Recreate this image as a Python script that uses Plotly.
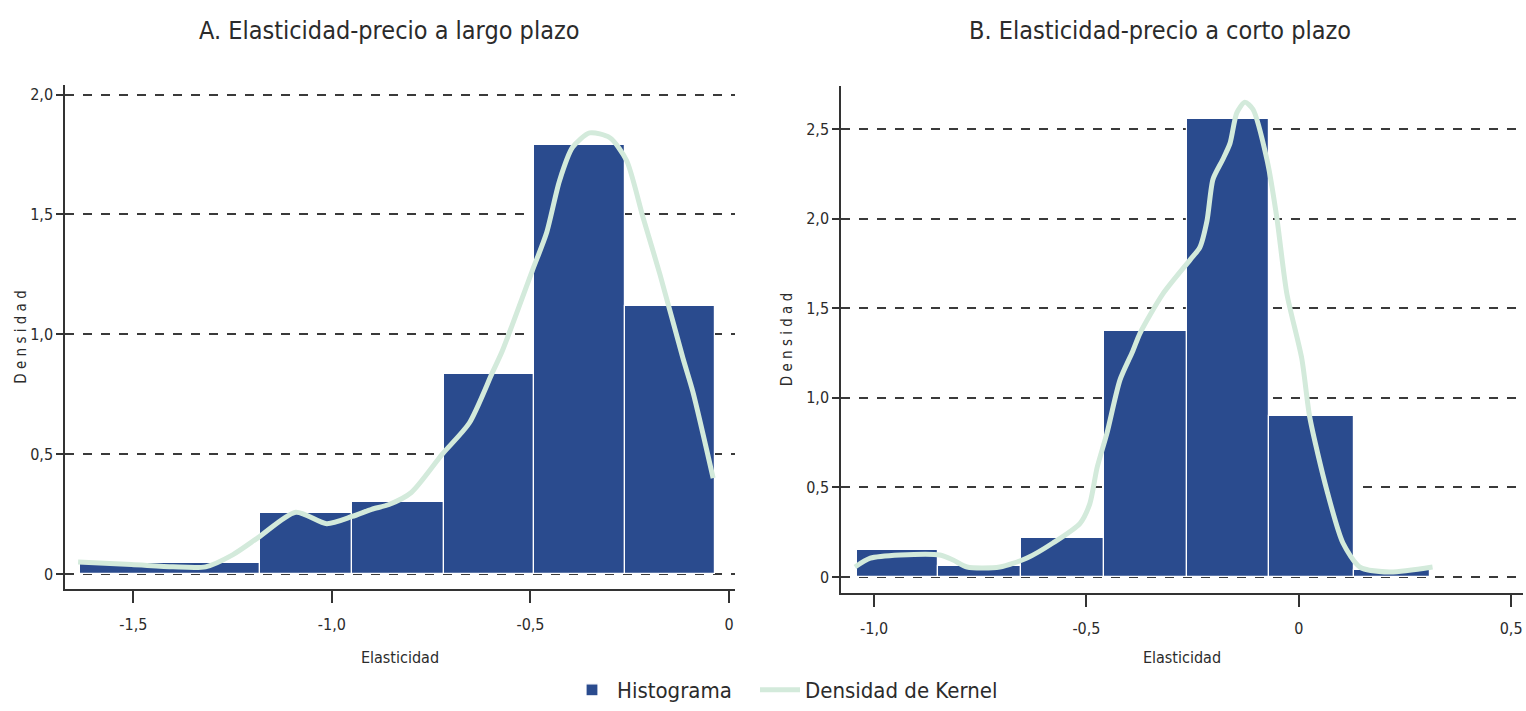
import plotly.graph_objects as go

# ---------------- data ----------------
# Panel A: long-run price elasticity
a_edges = [-1.634, -1.180, -0.950, -0.717, -0.490, -0.262, -0.035]
a_heights = [0.046, 0.254, 0.30, 0.833, 1.79, 1.117]
a_kde_x = [-1.639, -1.505, -1.40, -1.318, -1.25, -1.184, -1.091, -1.013, -0.949, -0.90, -0.856,
           -0.80, -0.722, -0.654, -0.596, -0.571, -0.495, -0.46, -0.427, -0.394, -0.351,
           -0.30, -0.258, -0.217, -0.174, -0.116, -0.091, -0.040]
a_kde_y = [0.05, 0.04, 0.03, 0.03, 0.08, 0.154, 0.258, 0.21, 0.24, 0.27, 0.29,
           0.34, 0.50, 0.63, 0.84, 0.93, 1.267, 1.42, 1.64, 1.78, 1.84,
           1.82, 1.725, 1.49, 1.25, 0.90, 0.76, 0.40]

# Panel B: short-run price elasticity
b_edges = [-1.040, -0.849, -0.654, -0.459, -0.263, -0.071, 0.131, 0.310]
b_heights = [0.15, 0.06, 0.218, 1.373, 2.556, 0.90, 0.04]
b_kde_x = [-1.045, -1.009, -0.939, -0.845, -0.814, -0.781, -0.704, -0.64, -0.579, -0.515,
           -0.492, -0.475, -0.452, -0.421, -0.391, -0.374, -0.32, -0.256, -0.233, -0.216,
           -0.202, -0.179, -0.162, -0.146, -0.127, -0.108, -0.075, -0.052, -0.028, 0.007,
           0.026, 0.066, 0.104, 0.144, 0.214, 0.315]
b_kde_y = [0.056, 0.105, 0.123, 0.123, 0.095, 0.056, 0.056, 0.106, 0.19, 0.30,
           0.41, 0.61, 0.80, 1.10, 1.26, 1.36, 1.58, 1.77, 1.84, 1.99,
           2.22, 2.33, 2.42, 2.59, 2.65, 2.61, 2.33, 2.01, 1.58, 1.22,
           0.89, 0.485, 0.19, 0.056, 0.028, 0.056]

titles = ["A. Elasticidad-precio a largo plazo", "B. Elasticidad-precio a corto plazo"]
a_xticks = [-1.5, -1.0, -0.5, 0]
a_xtext = ["-1,5", "-1,0", "-0,5", "0"]
a_yticks = [0, 0.5, 1.0, 1.5, 2.0]
a_ytext = ["0", "0,5", "1,0", "1,5", "2,0"]
b_xticks = [-1.0, -0.5, 0, 0.5]
b_xtext = ["-1,0", "-0,5", "0", "0,5"]
b_yticks = [0, 0.5, 1.0, 1.5, 2.0, 2.5]
b_ytext = ["0", "0,5", "1,0", "1,5", "2,0", "2,5"]

BAR = "#2a4b8e"
KDE = "#d3eadb"
TXT = "#2b2b2b"
FONT = "Liberation Sans Narrow, Arial Narrow, DejaVu Sans Condensed, Liberation Sans, sans-serif"


def centers(edges):
    return [(edges[i] + edges[i + 1]) / 2 for i in range(len(edges) - 1)]


def widths(edges):
    return [edges[i + 1] - edges[i] for i in range(len(edges) - 1)]


fig = go.Figure()

fig.add_trace(go.Bar(x=centers(a_edges), y=a_heights, width=widths(a_edges),
                     marker=dict(color=BAR, line=dict(color="white", width=1.2)),
                     name="Histograma", xaxis="x", yaxis="y", showlegend=True, legend="legend"))
fig.add_trace(go.Scatter(x=a_kde_x, y=a_kde_y, mode="lines",
                         line=dict(color=KDE, width=5, shape="spline", smoothing=0.7),
                         name="Densidad de Kernel", xaxis="x", yaxis="y", showlegend=True,
                         legend="legend2"))
fig.add_trace(go.Bar(x=centers(b_edges), y=b_heights, width=widths(b_edges),
                     marker=dict(color=BAR, line=dict(color="white", width=1.2)),
                     name="Histograma", xaxis="x2", yaxis="y2", showlegend=False))
fig.add_trace(go.Scatter(x=b_kde_x, y=b_kde_y, mode="lines",
                         line=dict(color=KDE, width=5, shape="spline", smoothing=0.7),
                         name="Densidad de Kernel", xaxis="x2", yaxis="y2", showlegend=False))

W, H = 1526, 711

axis_common = dict(showline=True, linecolor="#333", linewidth=1.5, ticks="outside",
                   tickcolor="#333", tickwidth=1.5, zeroline=False, automargin=False,
                   tickfont=dict(family=FONT, size=16, color=TXT))

grid = dict(showgrid=True, gridcolor="#3a3a3a", gridwidth=1.5, griddash="dash")

legend_common = dict(orientation="h", xanchor="left", y=0.0, yanchor="bottom",
                     font=dict(size=22, family=FONT, color=TXT), itemwidth=40,
                     bgcolor="rgba(0,0,0,0)")

fig.update_layout(
    width=W, height=H,
    margin=dict(l=0, r=0, t=0, b=0, autoexpand=False),
    paper_bgcolor="white", plot_bgcolor="white",
    bargap=0,
    font=dict(family=FONT, color=TXT),
    xaxis=dict(domain=[65 / W, 735 / W], range=[-1.672, 0.015], tickvals=a_xticks,
               ticktext=a_xtext, ticklen=12, ticklabelstandoff=8, anchor="y", showgrid=False,
               title=dict(text="Elasticidad", font=dict(size=16, family=FONT, color=TXT), standoff=19),
               **axis_common),
    yaxis=dict(domain=[1 - 589 / H, 1 - 85 / H], range=[-0.0625, 2.04], tickvals=a_yticks,
               ticktext=a_ytext, ticklen=7, anchor="x",
               title=dict(text="D e n s i d a d", font=dict(size=15, family=FONT, color=TXT), standoff=0),
               **grid, **axis_common),
    xaxis2=dict(domain=[841 / W, 1523 / W], range=[-1.078, 0.528], tickvals=b_xticks,
                ticktext=b_xtext, ticklen=12, ticklabelstandoff=8, anchor="y2", showgrid=False,
                title=dict(text="Elasticidad", font=dict(size=16, family=FONT, color=TXT), standoff=15),
                **axis_common),
    yaxis2=dict(domain=[1 - 593 / H, 1 - 86 / H], range=[-0.089, 2.74], tickvals=b_yticks,
                ticktext=b_ytext, ticklen=7, anchor="x2",
                title=dict(text="D e n s i d a d", font=dict(size=15, family=FONT, color=TXT), standoff=10),
                **grid, **axis_common),
    legend=dict(x=567 / W, **legend_common),
    legend2=dict(x=755 / W, **legend_common),
    annotations=[
        dict(text=titles[0], x=389 / W, y=1 - 30 / H, xref="paper", yref="paper",
             showarrow=False, font=dict(size=25, family=FONT, color=TXT),
             xanchor="center", yanchor="middle"),
        dict(text=titles[1], x=1160 / W, y=1 - 30 / H, xref="paper", yref="paper",
             showarrow=False, font=dict(size=25, family=FONT, color=TXT),
             xanchor="center", yanchor="middle"),
    ],
)

fig.write_html("out.html", config={"displayModeBar": False},
               post_script="document.body.style.margin='0';document.body.style.overflow='hidden';")
